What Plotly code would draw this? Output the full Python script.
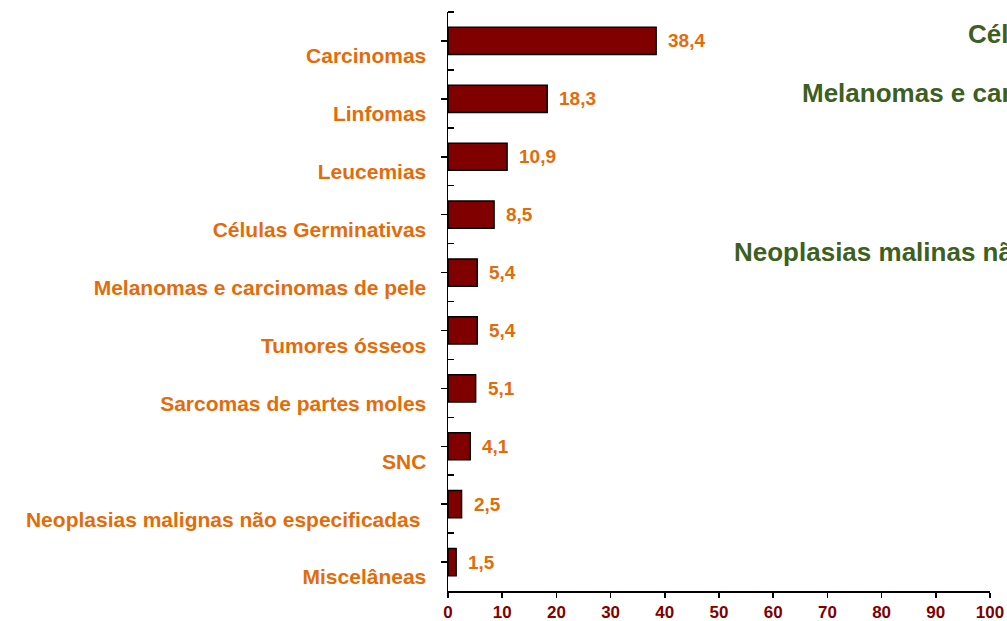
import plotly.graph_objects as go

categories = ["Carcinomas", "Linfomas", "Leucemias", "Células Germinativas",
              "Melanomas e carcinomas de pele", "Tumores ósseos",
              "Sarcomas de partes moles", "SNC",
              "Neoplasias malignas não especificadas ", "Miscelâneas"]
values = [38.4, 18.3, 10.9, 8.5, 5.4, 5.4, 5.1, 4.1, 2.5, 1.5]
value_labels = ["38,4", "18,3", "10,9", "8,5", "5,4", "5,4", "5,1", "4,1", "2,5", "1,5"]
x_ticks = [0, 10, 20, 30, 40, 50, 60, 70, 80, 90, 100]
side_notes = ["Células Germinativas", "Melanomas e carcinomas de pele",
              "Neoplasias malinas não especificadas"]

ORANGE = "#E36C0A"
DARKRED = "#800000"
GREEN = "#3D5F1F"
FONT = "Liberation Sans, Arial, sans-serif"

W, H = 1007, 621
L, R, T, B = 448, 17, 12, 30
PW, PH = W - L - R, H - T - B

idx = list(range(len(categories)))

fig = go.Figure()
fig.add_trace(go.Bar(
    x=values, y=idx, orientation="h", width=0.47,
    marker=dict(color=DARKRED, line=dict(color="black", width=1.5)),
    hoverinfo="skip",
))

for i, (v, t) in enumerate(zip(values, value_labels)):
    fig.add_annotation(x=v, y=i, text=t, xref="x", yref="y", showarrow=False,
                       xanchor="left", xshift=10,
                       font=dict(family=FONT, size=19, color=ORANGE, weight="bold"))

note_pos = [(966, 34), (800, 93), (732, 252)]
for t, (px, py) in zip(side_notes, note_pos):
    fig.add_annotation(x=(px - L) / PW, y=1 - (py - T) / PH, xref="paper", yref="paper",
                       text=t, showarrow=False, xanchor="left", yanchor="middle",
                       font=dict(family=FONT, size=26, color=GREEN, weight="bold"))

fig.update_layout(
    width=W, height=H,
    margin=dict(l=L, r=R, t=T, b=B, autoexpand=False),
    paper_bgcolor="white", plot_bgcolor="white",
    showlegend=False,
    xaxis=dict(range=[0, 100], tickvals=x_ticks, showgrid=False, zeroline=False,
               automargin=False,
               showline=True, linecolor="black", linewidth=1.5,
               ticks="outside", ticklen=5, tickcolor="black", tickwidth=1.5,
               tickfont=dict(family=FONT, size=17, color=DARKRED, weight="bold")),
    yaxis=dict(range=[9.5, -0.5], tickvals=idx, ticktext=categories,
               showgrid=False, zeroline=False, automargin=False,
               showline=True, linecolor="black", linewidth=1.5,
               ticks="outside", ticklen=6, tickcolor="black", tickwidth=1.5,
               ticklabelshift=-15, ticklabelstandoff=10,
               minor=dict(tickvals=[k + 0.5 for k in range(-1, 9)], ticks="inside",
                          ticklen=6, tickcolor="black", tickwidth=1.5, showgrid=False),
               tickfont=dict(family=FONT, size=21, color=ORANGE, weight="bold")),
)

fig.write_html("out.html",
               config={"displayModeBar": False, "staticPlot": True},
               post_script="document.body.style.margin='0';document.body.style.overflow='hidden';")
